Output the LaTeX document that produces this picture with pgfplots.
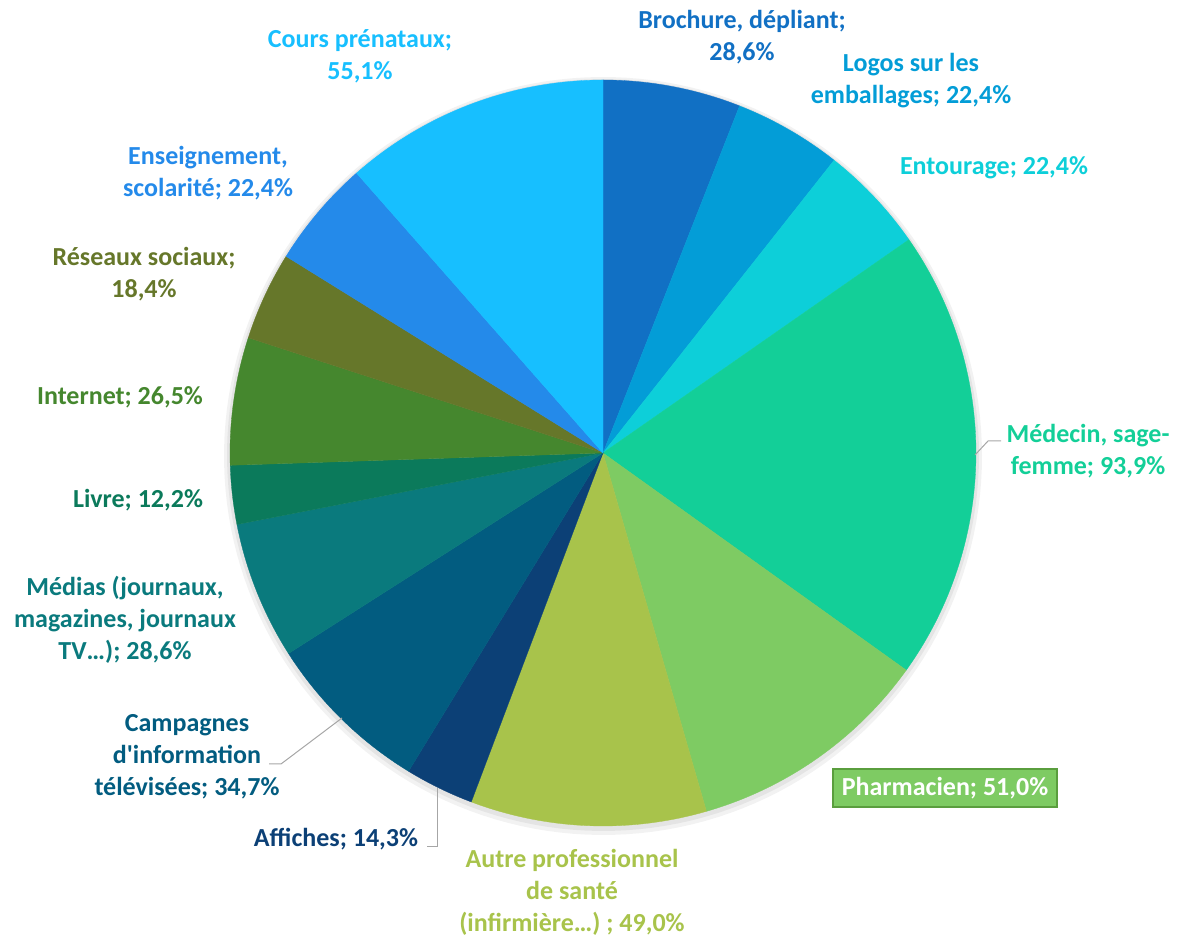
\documentclass[border=0pt]{standalone}
\usepackage{pgfplots}
\pgfplotsset{compat=1.18}
\usepackage{fontspec}
\setmainfont{Carlito}
\definecolor{c1}{HTML}{1170C4}
\definecolor{c2}{HTML}{039DD7}
\definecolor{c3}{HTML}{0DCFD9}
\definecolor{c4}{HTML}{13CF98}
\definecolor{c5}{HTML}{7ECB63}
\definecolor{c6}{HTML}{A8C34B}
\definecolor{c7}{HTML}{0C4076}
\definecolor{c8}{HTML}{025C80}
\definecolor{c9}{HTML}{0A7A7D}
\definecolor{c10}{HTML}{0B7A5B}
\definecolor{c11}{HTML}{45872E}
\definecolor{c12}{HTML}{66772A}
\definecolor{c13}{HTML}{248AEA}
\definecolor{c14}{HTML}{17BFFF}
\definecolor{pharmborder}{HTML}{5A9E3E}
\definecolor{leader}{HTML}{A6A6A6}
% values (percent), clockwise from 12 o'clock
\def\vals{28.6/c1,22.4/c2,22.4/c3,93.9/c4,51.0/c5,49.0/c6,14.3/c7,34.7/c8,28.6/c9,12.2/c10,26.5/c11,18.4/c12,22.4/c13,55.1/c14}
\gdef\total{0}
\foreach \v/\c in \vals {\pgfmathsetmacro\t{\total+\v}\xdef\total{\t}}
\def\cx{603}\def\cy{488}\def\rr{373}
\tikzset{lab/.style={font=\bfseries\fontsize{26}{32}\selectfont, align=center, inner sep=0pt}}
\begin{document}
\begin{tikzpicture}
\begin{axis}[xmin=0,xmax=1178,ymin=0,ymax=941,width=1178pt,height=941pt,
  scale only axis,hide axis,clip=false]
% soft shadow
\addplot[draw=none,fill=black,opacity=0.05,domain=0:360,samples=180] ({603+379*cos(x)},{485+379*sin(x)}) -- cycle;
\addplot[draw=none,fill=black,opacity=0.06,domain=0:360,samples=180] ({603+376*cos(x)},{486+376*sin(x)}) -- cycle;
\gdef\cum{0}
\foreach \v/\c in \vals {
  \pgfmathsetmacro\fa{\cum/\total}
  \pgfmathsetmacro\fb{(\cum+\v)/\total}
  \pgfmathsetmacro\a{90-360*\fa}
  \pgfmathsetmacro\b{90-360*\fb}
  \edef\temp{\noexpand\addplot[fill=\c, draw=\c, line width=0.3pt, domain=\b:\a, samples=90]
     ({\cx+\rr*cos(x)},{\cy+\rr*sin(x)}) -- (axis cs:\cx,\cy) -- cycle;}
  \temp
  \pgfmathsetmacro\n{\cum+\v}\xdef\cum{\n}
}
% leader lines
\draw[leader, line width=1pt] (axis cs:975,486) -- (axis cs:988,500) -- (axis cs:1001,500);
\draw[leader, line width=1pt] (axis cs:269,177) -- (axis cs:281,177) -- (axis cs:342,223);
\draw[leader, line width=1pt] (axis cs:427,94) -- (axis cs:437,94) -- (axis cs:437,153);
% labels
\node[lab, text=c14] at (axis cs:360,885) {Cours prénataux;\\55,1\%};
\node[lab, text=c1] at (axis cs:742,904) {Brochure, dépliant;\\28,6\%};
\node[lab, text=c2] at (axis cs:911,860) {Logos sur les\\emballages; 22,4\%};
\node[lab, text=c3] at (axis cs:994,773) {Entourage; 22,4\%};
\node[lab, text=c4] at (axis cs:1088,490) {Médecin, sage-\\femme; 93,9\%};
\node[lab, text=white, fill=c5, draw=pharmborder, line width=2pt, inner xsep=8.5pt, inner ysep=8pt] at (axis cs:945,153) {Pharmacien; 51,0\%};
\node[lab, text=c6] at (axis cs:572,49) {Autre professionnel\\de santé\\(infirmière…) ; 49,0\%};
\node[lab, text=c7] at (axis cs:336,102) {Affiches; 14,3\%};
\node[lab, text=c8] at (axis cs:187,184) {Campagnes\\d\textquotesingle information\\télévisées; 34,7\%};
\node[lab, text=c9] at (axis cs:125,321) {Médias (journaux,\\magazines, journaux\\TV…); 28,6\%};
\node[lab, text=c10] at (axis cs:138,441) {Livre; 12,2\%};
\node[lab, text=c11] at (axis cs:120,544) {Internet; 26,5\%};
\node[lab, text=c12] at (axis cs:144,667) {Réseaux sociaux;\\18,4\%};
\node[lab, text=c13] at (axis cs:208,768) {Enseignement,\\scolarité; 22,4\%};
\end{axis}
\pgfresetboundingbox
\useasboundingbox (0,0) rectangle (1178pt,941pt);
\end{tikzpicture}
\end{document}
